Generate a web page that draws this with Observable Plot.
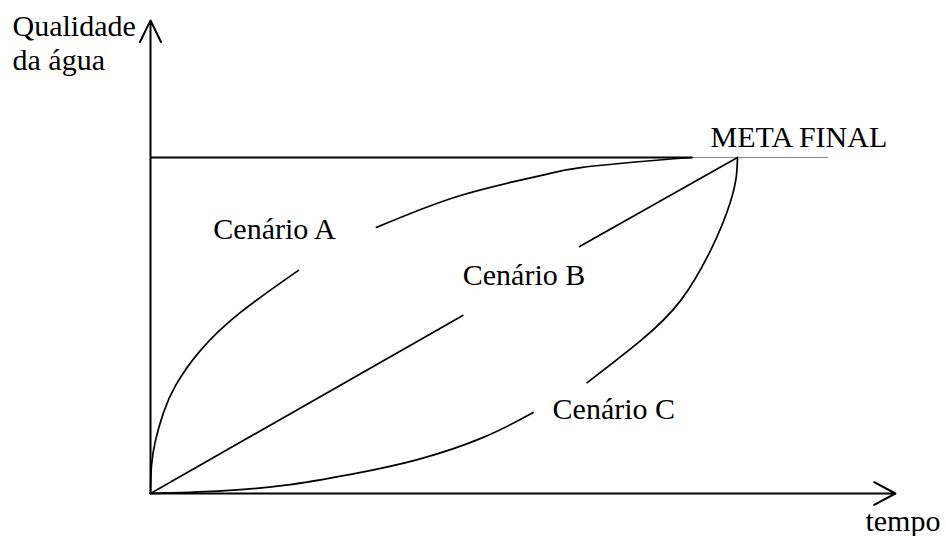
<!DOCTYPE html>
<html>
<head>
<meta charset="utf-8">
<script src="https://cdn.jsdelivr.net/npm/d3@7"></script>
<script src="https://cdn.jsdelivr.net/npm/@observablehq/plot@0.6"></script>
<style>
  html, body { margin: 0; padding: 0; background: #fff; }
  #chart svg { display: block; }
  #chart svg text { font-family: "Liberation Serif", "Times New Roman", Times, "DejaVu Serif", serif !important; }
</style>
</head>
<body>
<div id="chart"></div>
<script>
// Scenario curves (tempo, qualidade) — 0..100 scale, META FINAL = 100
const cenarioA_1 = [[0,0],[0.17,8.3],[0.85,15.8],[2.2,24.0],[4.26,32.1],[8.52,42.6],[15.33,53.9],[25.21,66.4]];
const cenarioA_2 = [[38.5,79.2],[52.8,88.7],[66.4,94.6],[73.3,97.0],[85.7,99.1],[92.3,100]];
const cenarioB_1 = [[0,0],[53.2,53.0]];
const cenarioB_2 = [[73.1,73.5],[100,100]];
const cenarioC_1 = [[0,0],[11.4,0.7],[22.7,2.4],[34.1,5.7],[45.5,10.1],[56.7,16.7],[65.2,24.1]];
const cenarioC_2 = [[74.4,33.0],[83.5,45.5],[90.3,57.4],[95.4,72.3],[98.3,84.2],[99.7,93.2],[100,100]];

const metaValue = 100;
const metaEndBlack = 92.3;
const metaEndGray = 115.5;
const xAxisEnd = 126.9;
const yAxisEnd = 140.8;

const labels = [
  {text: "Cenário A", x: 10.7, y: 75.6},
  {text: "Cenário B", x: 53.2, y: 62.2},
  {text: "Cenário C", x: 68.5, y: 22.3},
  {text: "META FINAL", x: 95.4, y: 103.0},
  {text: "tempo", x: 121.8, y: -11.3},
  {text: "Qualidade", x: -23.5, y: 136.3},
  {text: "da água", x: -23.5, y: 125.9}
];

const segs = [cenarioA_1, cenarioA_2, cenarioB_1, cenarioB_2, cenarioC_1, cenarioC_2];
const lineMarks = segs.map(s => Plot.line(s, {x: d => d[0], y: d => d[1], curve: s.length > 2 ? "natural" : "linear", stroke: "#000", strokeWidth: 1.7}));

const chart = Plot.plot({
  width: 946,
  height: 536,
  x: {domain: [0, 100], range: [150, 737], axis: null},
  y: {domain: [0, 100], range: [493, 157], axis: null},
  style: {background: "#fff", overflow: "visible"},
  marks: [
    Plot.ruleY([metaValue], {x1: 0, x2: metaEndGray, stroke: "#888", strokeWidth: 1}),
    Plot.ruleY([metaValue], {x1: 0, x2: metaEndBlack, stroke: "#000", strokeWidth: 2}),
    ...lineMarks,
    Plot.arrow([0], {x1: 0, y1: 0, x2: 0, y2: yAxisEnd, stroke: "#000", strokeWidth: 2, headLength: 18, headAngle: 52}),
    Plot.arrow([0], {x1: 0, y1: 0, x2: xAxisEnd, y2: 0, stroke: "#000", strokeWidth: 2, headLength: 18, headAngle: 56}),
    Plot.text(labels, {x: "x", y: "y", text: "text", textAnchor: "start", lineAnchor: "bottom", fontSize: 30, fontFamily: "Liberation Serif, DejaVu Serif, serif", fill: "#000"})
  ]
});
document.getElementById("chart").appendChild(chart);
</script>
</body>
</html>
